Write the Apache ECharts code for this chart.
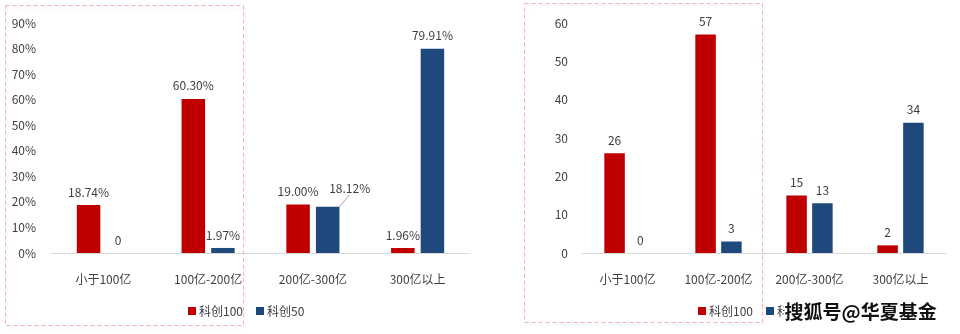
<!DOCTYPE html>
<html>
<head>
<meta charset="utf-8">
<script src="https://cdn.jsdelivr.net/npm/echarts@6/dist/echarts.min.js"></script>
<style>
  html, body { margin: 0; padding: 0; background: #fff; }
  #chart { width: 960px; height: 334px; }
</style>
</head>
<body>
<div id="chart"></div>
<script>
// Market-cap buckets
const categories = ['小于100亿', '100亿-200亿', '200亿-300亿', '300亿以上'];
// Weight share by bucket (%)
const shareKc100 = [18.74, 60.30, 19.00, 1.96];
const shareKc50 = [0, 1.97, 18.12, 79.91];
// Number of constituents by bucket
const countKc100 = [26, 57, 15, 2];
const countKc50 = [0, 3, 13, 34];
// Left axis ticks (%)
const shareTicks = [0, 10, 20, 30, 40, 50, 60, 70, 80, 90];
// Right axis ticks
const countTicks = [0, 10, 20, 30, 40, 50, 60];

const RED = '#c00000';
const BLUE = '#1f497d';
const TEXT = '#404040';
const FONT = '"Noto Sans CJK SC", "Noto Sans", sans-serif';

const chart = echarts.init(document.getElementById('chart'));

const pctFmt = p => (p.value === 0 ? '0' : p.value.toFixed(2) + '%');

function barSeries(name, data, color, axisIdx, width, fmt) {
  return {
    name: name,
    type: 'bar',
    xAxisIndex: axisIdx,
    yAxisIndex: axisIdx,
    data: data,
    barWidth: width,
    barGap: '26%',
    itemStyle: { color: color },
    label: {
      show: true,
      position: 'top',
      distance: 7,
      color: TEXT,
      fontSize: 12,
      fontFamily: FONT,
      formatter: fmt
    },
    labelLine: { show: false, lineStyle: { color: '#a6a6a6', width: 1 } }
  };
}

// the 18.12% label sits off to the side with a leader line
const shareKc50Data = shareKc50.map((v, i) =>
  i === 2 ? { value: v, labelLine: { show: true, lineStyle: { color: '#a6a6a6', width: 1 } } } : v
);

const axisCommonX = {
  type: 'category',
  data: categories,
  axisLine: { lineStyle: { color: '#d9d9d9', width: 1 } },
  axisTick: { show: false },
  axisLabel: { color: TEXT, fontSize: 12, fontFamily: FONT, margin: 20 }
};

const legendCommon = {
  itemWidth: 8,
  itemHeight: 8,
  itemGap: 13,
  padding: 0,
  icon: 'rect',
  textStyle: { color: TEXT, fontSize: 12, fontFamily: FONT, padding: [0, 0, 0, -2] },
  data: ['科创100', '科创50']
};

chart.setOption({
  animation: false,
  backgroundColor: '#fff',
  grid: [
    { left: 51, right: 490, top: 23, bottom: 81 },
    { left: 582, right: 14, top: 23, bottom: 81 }
  ],
  xAxis: [
    Object.assign({ gridIndex: 0 }, axisCommonX),
    Object.assign({ gridIndex: 1 }, axisCommonX)
  ],
  yAxis: [
    {
      gridIndex: 0, type: 'value',
      min: shareTicks[0], max: shareTicks[shareTicks.length - 1], interval: 10,
      axisLine: { show: false }, axisTick: { show: false }, splitLine: { show: false },
      axisLabel: { color: TEXT, fontSize: 12, fontFamily: FONT, margin: 15, formatter: '{value}%' }
    },
    {
      gridIndex: 1, type: 'value',
      min: countTicks[0], max: countTicks[countTicks.length - 1], interval: 10,
      axisLine: { show: false }, axisTick: { show: false }, splitLine: { show: false },
      axisLabel: { color: TEXT, fontSize: 12, fontFamily: FONT, margin: 14 }
    }
  ],
  legend: [
    Object.assign({ left: 188, top: 305 }, legendCommon),
    Object.assign({ left: 698, top: 305 }, legendCommon)
  ],
  series: [
    barSeries('科创100', shareKc100, RED, 0, 23.5, pctFmt),
    barSeries('科创50', shareKc50Data, BLUE, 0, 23.5, pctFmt),
    barSeries('科创100', countKc100, RED, 1, 20.5, '{c}'),
    barSeries('科创50', countKc50, BLUE, 1, 20.5, '{c}')
  ],
  labelLayout: function (params) {
    // nudge the 18.12% label aside so it clears the neighbouring label
    if (params.seriesIndex === 1 && params.dataIndex === 2) {
      return { dx: 22, dy: -5 };
    }
  },
  graphic: [
    {
      type: 'rect', z: 100, silent: true,
      shape: { x: 5.5, y: 5.5, width: 238, height: 320 },
      style: { fill: 'none', stroke: '#f2b3b3', lineWidth: 1, lineDash: [4, 3],
               shadowBlur: 3, shadowColor: 'rgba(0,0,0,0.12)', shadowOffsetX: 1, shadowOffsetY: 2 }
    },
    {
      type: 'rect', z: 100, silent: true,
      shape: { x: 524.5, y: 3.5, width: 238, height: 319 },
      style: { fill: 'none', stroke: '#f2b3b3', lineWidth: 1, lineDash: [4, 3],
               shadowBlur: 3, shadowColor: 'rgba(0,0,0,0.12)', shadowOffsetX: 1, shadowOffsetY: 2 }
    },
    {
      type: 'text', z: 110, silent: true,
      left: 783, top: 301,
      style: {
        text: '搜狐号@华夏基金',
        fill: '#111',
        stroke: '#fff',
        lineWidth: 3,
        font: 'bold 19px "Noto Sans CJK SC", sans-serif'
      }
    }
  ]
});
</script>
</body>
</html>
